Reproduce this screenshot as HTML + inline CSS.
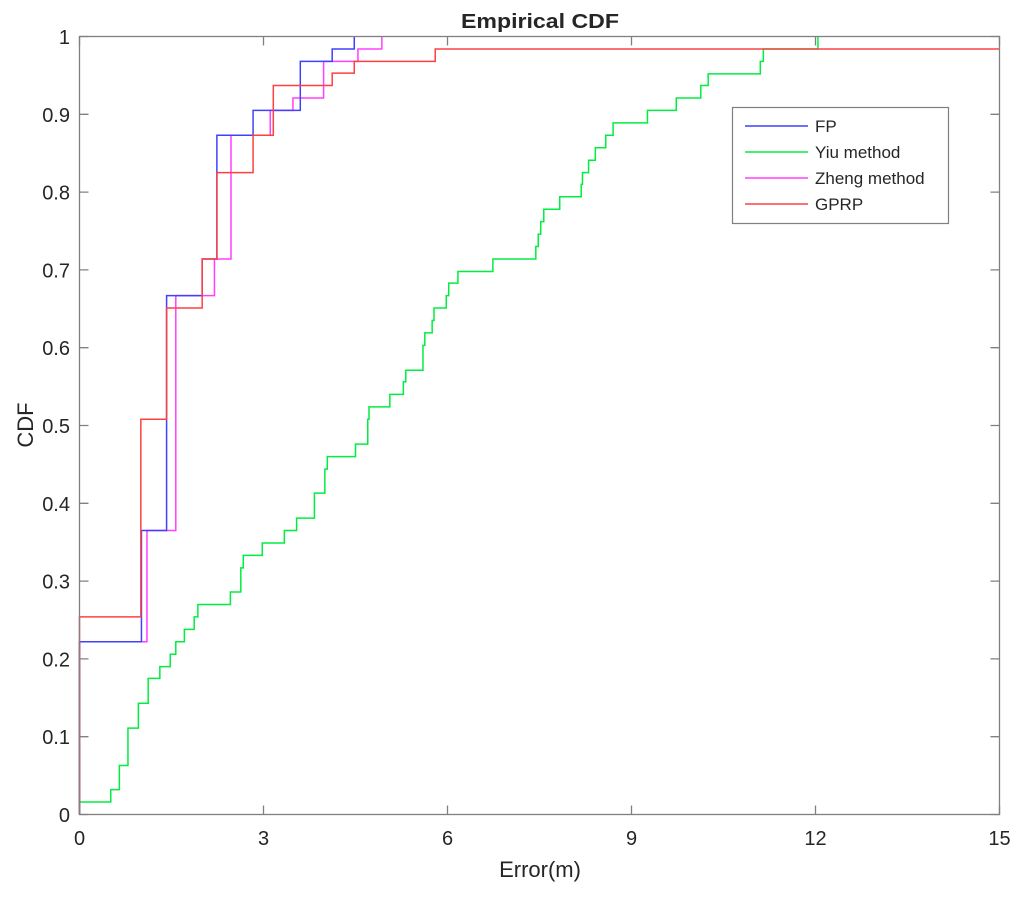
<!DOCTYPE html>
<html><head><meta charset="utf-8"><style>
html,body{margin:0;padding:0;background:#fff;}
svg text{font-family:"Liberation Sans",Arial,sans-serif;fill:#262626;}
</style></head><body>
<svg id="chart" width="1024" height="902" viewBox="0 0 1024 902" xmlns="http://www.w3.org/2000/svg">
<rect x="0" y="0" width="1024" height="902" fill="#fff"/>
<g id="series"></g>
<rect x="79.5" y="36.5" width="920" height="778" fill="none" stroke="#808080" stroke-width="1.3"/>
<g id="ticks"></g>
<text x="540" y="28" text-anchor="middle" font-size="20" font-weight="bold" fill="#000" textLength="158" lengthAdjust="spacingAndGlyphs">Empirical CDF</text>
<text x="540" y="877" text-anchor="middle" font-size="22">Error(m)</text>
<text x="0" y="0" transform="translate(33,425) rotate(-90)" text-anchor="middle" font-size="22">CDF</text>
<g>
<rect x="732.5" y="107.5" width="216" height="116" fill="#fff" stroke="#808080" stroke-width="1.2"/>
<g id="legend-entries"></g>
</g>
</svg>
<script>
const xTicks=[0,3,6,9,12,15];
const yTicks=[0,0.1,0.2,0.3,0.4,0.5,0.6,0.7,0.8,0.9,1];
const yTickLabels=["0","0.1","0.2","0.3","0.4","0.5","0.6","0.7","0.8","0.9","1"];
const seriesNames=["FP","Yiu method","Zheng method","GPRP"];
const seriesColors=["#4040ff","#00ee40","#ff40ff","#ff4040"];
const fpX=[0,1.01,1.42,2.0,2.24,2.83,3.6,4.12,4.48];
const fpY=[0.222,0.365,0.667,0.714,0.873,0.905,0.968,0.984,1];
const zhengX=[0,1.1,1.57,2.2,2.47,3.11,3.48,3.98,4.54,4.93];
const zhengY=[0.222,0.365,0.667,0.714,0.873,0.905,0.921,0.968,0.984,1];
const gprpX=[0,1.0,1.42,2.0,2.24,2.83,3.16,4.12,4.48,5.8,15];
const gprpY=[0.254,0.508,0.651,0.714,0.825,0.873,0.937,0.953,0.968,0.984,0.984];
const yiuX=[0,0.51,0.65,0.79,0.96,1.12,1.31,1.48,1.57,1.71,1.87,1.93,2.46,2.63,2.67,2.98,3.34,3.54,3.83,4.0,4.04,4.5,4.7,4.72,5.06,5.28,5.32,5.6,5.63,5.75,5.78,5.98,6.02,6.17,6.74,7.44,7.48,7.52,7.57,7.83,8.18,8.2,8.3,8.41,8.58,8.7,9.26,9.73,10.13,10.25,11.1,11.15,12.04];
const yiuY=[0.016,0.032,0.063,0.111,0.143,0.175,0.190,0.206,0.222,0.238,0.254,0.270,0.286,0.317,0.333,0.349,0.365,0.381,0.413,0.444,0.460,0.476,0.508,0.524,0.540,0.556,0.571,0.603,0.619,0.635,0.651,0.667,0.683,0.698,0.714,0.730,0.746,0.762,0.778,0.794,0.810,0.825,0.841,0.857,0.873,0.889,0.905,0.921,0.937,0.952,0.968,0.984,1];
const seriesX=[fpX,yiuX,zhengX,gprpX];
const seriesY=[fpY,yiuY,zhengY,gprpY];
const L=79.5,R=999.5,T=36.5,B=814.5;
function sx(v){return L+(v-0)/(15-0)*(R-L);}
function sy(v){return B-(v-0)/(1-0)*(B-T);}
const NS="http://www.w3.org/2000/svg";
const tg=document.getElementById('ticks');
xTicks.forEach(function(t){
  const l=document.createElementNS(NS,'path');
  l.setAttribute('d','M'+sx(t)+','+B+'v-9M'+sx(t)+','+T+'v9');
  l.setAttribute('stroke','#808080');l.setAttribute('stroke-width','1.3');
  
  
  tg.appendChild(l);
  const tx=document.createElementNS(NS,'text');
  tx.setAttribute('x',sx(t));tx.setAttribute('y',845);tx.setAttribute('text-anchor','middle');tx.setAttribute('font-size','20');
  tx.textContent=String(t);
  
  
  tg.appendChild(tx);
});
yTicks.forEach(function(t,i){
  const l=document.createElementNS(NS,'path');
  l.setAttribute('d','M'+L+','+sy(t)+'h9M'+R+','+sy(t)+'h-9');
  l.setAttribute('stroke','#808080');l.setAttribute('stroke-width','1.3');
  
  
  tg.appendChild(l);
  const tx=document.createElementNS(NS,'text');
  tx.setAttribute('x',70);tx.setAttribute('y',sy(t)+7.5);tx.setAttribute('text-anchor','end');tx.setAttribute('font-size','20');
  tx.textContent=yTickLabels[i];
  
  
  tg.appendChild(tx);
});
const sg=document.getElementById('series');
const order=[1,2,0,3];
order.forEach(function(k){
  const xs=seriesX[k],ys=seriesY[k];
  let d='M'+sx(xs[0])+','+sy(0)+'V'+sy(ys[0]);
  for(let i=1;i<xs.length;i++){d+='H'+sx(xs[i])+'V'+sy(ys[i]);}
  const p=document.createElementNS(NS,'path');
  p.setAttribute('d',d);p.setAttribute('fill','none');p.setAttribute('stroke',seriesColors[k]);p.setAttribute('stroke-width','1.5');
  
  
  sg.appendChild(p);
});
const lg=document.getElementById('legend-entries');
seriesNames.forEach(function(n,i){
  const y=126+i*26;
  const l=document.createElementNS(NS,'line');
  l.setAttribute('x1',745);l.setAttribute('x2',808);l.setAttribute('y1',y);l.setAttribute('y2',y);
  l.setAttribute('stroke',seriesColors[i]);l.setAttribute('stroke-width','1.4');
  
  
  lg.appendChild(l);
  const t=document.createElementNS(NS,'text');
  t.setAttribute('x',815);t.setAttribute('y',y+6);t.setAttribute('font-size','17');t.setAttribute('fill','#000');
  t.textContent=n;
  
  
  lg.appendChild(t);
});
</script>
</body></html>
